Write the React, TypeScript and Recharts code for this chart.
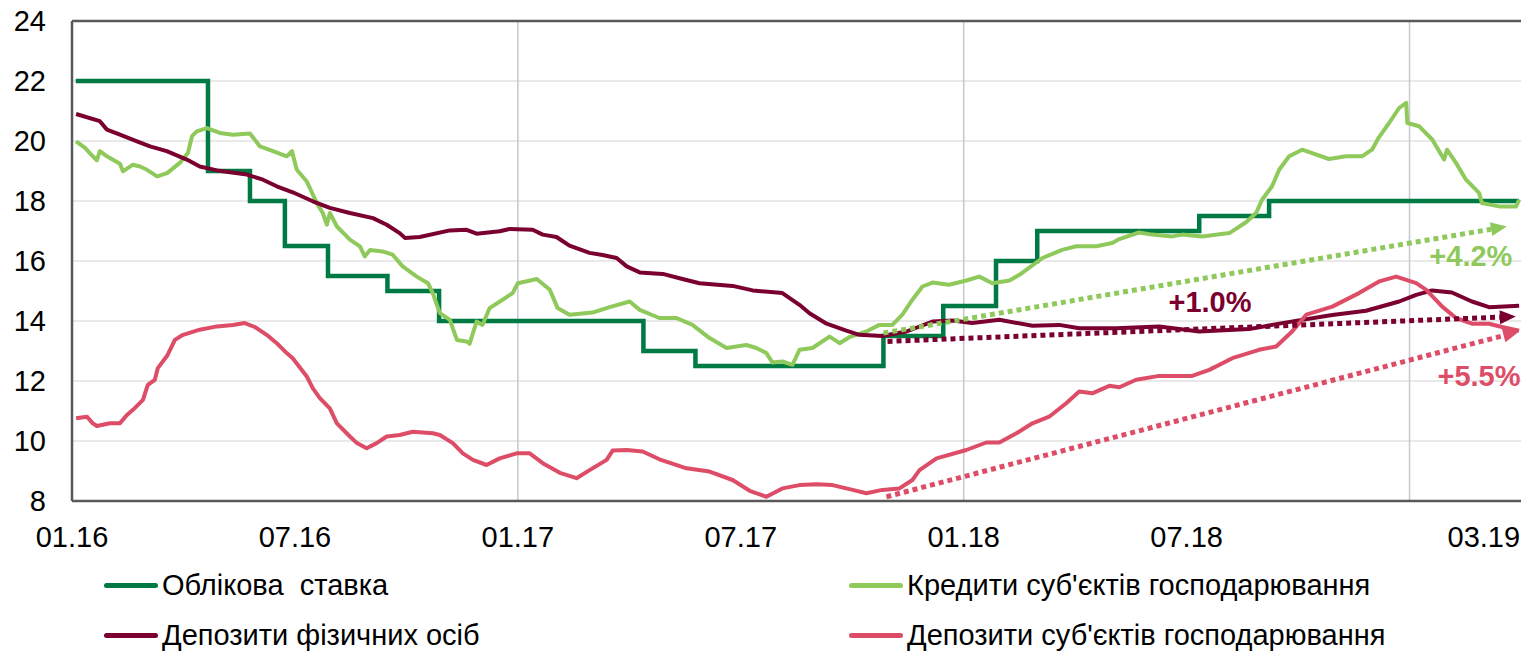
import React from 'react';
import { LineChart, Line, XAxis, YAxis, CartesianGrid, ReferenceLine, ReferenceDot } from 'recharts';

// x = months since 01.2016
const tickPositions = [0, 6, 12, 18, 24, 30, 38];
const tickLabels = ['01.16', '07.16', '01.17', '07.17', '01.18', '07.18', '03.19'];
const yearLines = [12, 24, 36];
const yTicks = [8, 10, 12, 14, 16, 18, 20, 22, 24];

const keyRate: [number, number][] = [
  [0.1, 22], [3.66, 19], [4.79, 18], [5.73, 16.5], [6.89, 15.5], [8.49, 15], [9.88, 14],
  [15.38, 13], [16.78, 12.5], [21.84, 13.5], [23.45, 14.5], [24.87, 16], [25.98, 17],
  [30.34, 17.5], [32.22, 18], [38.95, 18],
];

const businessLoans: [number, number][] = [
  [0.11, 19.99], [0.35, 19.77], [0.56, 19.49], [0.67, 19.36], [0.75, 19.66], [0.94, 19.49],
  [1.29, 19.24], [1.37, 18.99], [1.64, 19.21], [1.83, 19.15], [2.02, 19.04], [2.29, 18.82],
  [2.56, 18.93], [2.9, 19.27], [3.12, 19.6], [3.23, 20.16], [3.36, 20.32], [3.63, 20.43],
  [3.98, 20.27], [4.33, 20.21], [4.79, 20.25], [5.06, 19.82], [5.41, 19.66], [5.78, 19.49],
  [5.92, 19.66], [6.05, 19.04], [6.32, 18.65], [6.59, 17.93], [6.75, 17.6], [6.86, 17.21],
  [6.94, 17.6], [7.13, 17.15], [7.48, 16.71], [7.75, 16.49], [7.88, 16.15], [8.02, 16.37],
  [8.36, 16.32], [8.63, 16.21], [8.9, 15.82], [9.28, 15.48], [9.58, 15.26], [9.71, 14.93],
  [9.9, 14.26], [10.17, 14.04], [10.36, 13.37], [10.62, 13.32], [10.7, 13.24], [10.89, 13.98],
  [11.05, 13.87], [11.24, 14.43], [11.59, 14.71], [11.86, 14.93], [12.0, 15.26], [12.51, 15.4],
  [12.86, 15.04], [13.07, 14.43], [13.39, 14.21], [14.01, 14.28], [14.47, 14.46], [15.01, 14.65],
  [15.28, 14.37], [15.81, 14.1], [16.27, 14.1], [16.7, 13.87], [17.16, 13.43], [17.62, 13.1],
  [18.15, 13.2], [18.42, 13.1], [18.69, 12.93], [18.85, 12.62], [19.12, 12.65], [19.39, 12.54],
  [19.58, 13.04], [19.93, 13.1], [20.39, 13.48], [20.66, 13.26], [20.92, 13.46], [21.38, 13.65],
  [21.73, 13.87], [22.08, 13.87], [22.35, 14.21], [22.62, 14.71], [22.89, 15.15], [23.16, 15.28],
  [23.61, 15.21], [24.07, 15.35], [24.42, 15.48], [24.77, 15.26], [25.23, 15.35], [25.5, 15.54],
  [26.12, 16.1], [26.65, 16.37], [27.03, 16.49], [27.57, 16.49], [28.0, 16.6], [28.19, 16.73],
  [28.72, 16.95], [29.07, 16.88], [29.61, 16.82], [29.88, 16.88], [30.42, 16.82], [31.15, 16.93],
  [31.6, 17.29], [31.87, 17.6], [32.03, 18.04], [32.3, 18.49], [32.49, 19.04], [32.76, 19.49],
  [33.11, 19.71], [33.83, 19.4], [34.29, 19.49], [34.72, 19.49], [34.99, 19.71], [35.18, 20.13],
  [35.45, 20.6], [35.72, 21.1], [35.91, 21.27], [35.94, 20.6], [36.26, 20.49], [36.61, 20.05],
  [36.93, 19.38], [37.01, 19.71], [37.25, 19.27], [37.52, 18.71], [37.87, 18.27], [37.95, 17.93],
  [38.41, 17.82], [38.87, 17.82], [38.95, 18.04],
];

const householdDeposits: [number, number][] = [
  [0.11, 20.9], [0.75, 20.66], [0.94, 20.38], [1.29, 20.21], [1.75, 19.99], [2.1, 19.82],
  [2.55, 19.66], [3.09, 19.38], [3.44, 19.15], [3.9, 19.02], [4.71, 18.88], [5.14, 18.71],
  [5.51, 18.49], [5.94, 18.29], [6.48, 17.99], [6.94, 17.77], [7.48, 17.6], [8.1, 17.43],
  [8.47, 17.21], [8.82, 16.93], [8.96, 16.77], [9.36, 16.8], [10.17, 17.02], [10.62, 17.04],
  [10.89, 16.91], [11.51, 16.99], [11.78, 17.07], [12.4, 17.04], [12.67, 16.88], [13.04, 16.8],
  [13.39, 16.51], [13.93, 16.27], [14.28, 16.2], [14.66, 16.1], [14.93, 15.82], [15.28, 15.62],
  [15.9, 15.57], [16.43, 15.4], [16.89, 15.26], [17.78, 15.17], [18.32, 15.02], [19.12, 14.93],
  [19.58, 14.54], [19.85, 14.26], [20.31, 13.91], [20.84, 13.68], [21.19, 13.54], [21.81, 13.5],
  [22.46, 13.65], [23.16, 13.98], [23.7, 14.02], [24.23, 13.93], [24.96, 14.04], [25.85, 13.84],
  [26.57, 13.87], [27.11, 13.76], [28.11, 13.76], [29.26, 13.82], [30.34, 13.65], [31.68, 13.73],
  [32.57, 13.93], [33.92, 14.2], [34.83, 14.34], [35.72, 14.65], [36.18, 14.87], [36.61, 15.02],
  [37.14, 14.95], [37.68, 14.65], [38.14, 14.46], [38.95, 14.51],
];

const businessDeposits: [number, number][] = [
  [0.11, 10.76], [0.4, 10.81], [0.56, 10.59], [0.67, 10.5], [1.02, 10.59], [1.29, 10.59],
  [1.48, 10.87], [1.64, 11.04], [1.91, 11.37], [2.04, 11.87], [2.23, 12.04], [2.31, 12.43],
  [2.56, 12.84], [2.77, 13.37], [2.99, 13.54], [3.44, 13.71], [3.9, 13.82], [4.33, 13.87],
  [4.65, 13.93], [4.92, 13.8], [5.24, 13.54], [5.51, 13.26], [5.78, 12.93], [5.94, 12.76],
  [6.32, 12.15], [6.48, 11.76], [6.67, 11.43], [6.94, 11.09], [7.13, 10.59], [7.48, 10.15],
  [7.67, 9.93], [7.93, 9.76], [8.2, 9.93], [8.47, 10.15], [8.82, 10.2], [9.17, 10.31],
  [9.71, 10.26], [9.9, 10.2], [10.25, 9.93], [10.52, 9.59], [10.79, 9.37], [11.16, 9.2],
  [11.51, 9.42], [11.97, 9.59], [12.32, 9.59], [12.67, 9.26], [13.13, 8.94], [13.58, 8.76],
  [13.93, 9.03], [14.39, 9.37], [14.55, 9.68], [14.93, 9.7], [15.36, 9.65], [15.81, 9.39],
  [16.54, 9.09], [17.16, 8.98], [17.78, 8.7], [18.24, 8.34], [18.69, 8.14], [19.12, 8.42],
  [19.58, 8.53], [20.04, 8.56], [20.47, 8.53], [21.01, 8.37], [21.38, 8.26], [21.81, 8.37],
  [22.27, 8.42], [22.62, 8.7], [22.81, 9.03], [23.27, 9.42], [24.07, 9.7], [24.61, 9.95],
  [24.96, 9.95], [25.42, 10.26], [25.85, 10.59], [26.3, 10.81], [26.76, 11.26], [27.11, 11.65],
  [27.46, 11.59], [27.92, 11.84], [28.19, 11.79], [28.64, 12.04], [29.26, 12.17], [30.15, 12.17],
  [30.61, 12.37], [31.23, 12.76], [31.95, 13.04], [32.41, 13.15], [32.84, 13.65], [33.22, 14.21],
  [33.92, 14.48], [34.64, 14.93], [35.18, 15.32], [35.64, 15.48], [36.18, 15.26], [36.45, 15.04],
  [36.88, 14.48], [37.25, 14.1], [37.68, 13.91], [38.14, 13.91], [38.49, 13.8], [38.95, 13.68],
];

// trend arrows: [start month, start value, end month, end value]
const loansTrend = [21.84, 13.6, 38.62, 17.15];
const householdTrend = [21.95, 13.32, 38.86, 14.15];
const depositsTrend = [21.92, 8.14, 38.95, 13.65];
const trendLabels = ['+4.2%', '+1.0%', '+5.5%'];
const trendLabelAt: [number, number][] = [[37.65, 16.17], [30.63, 14.64], [37.87, 12.17]];

const seriesNames = [
  'Облікова  ставка',
  "Кредити суб'єктів господарювання",
  'Депозити фізичних осіб',
  "Депозити суб'єктів господарювання",
];
const colors = ['#007a45', '#8fc95c', '#7a0030', '#dd4d67'];

const buildRows = () => {
  const map = new Map<number, Record<string, number>>();
  const add = (key: string, pts: [number, number][]) =>
    pts.forEach(([m, v]) => {
      const row = map.get(m) ?? { m };
      row[key] = v;
      map.set(m, row);
    });
  add('rate', keyRate);
  add('loans', businessLoans);
  add('households', householdDeposits);
  add('business', businessDeposits);
  return [...map.values()].sort((a, b) => a.m - b.m);
};

const data = buildRows();
const FONT = '"Liberation Sans", Arial, sans-serif';

const arrowShape = (color: string) => (props: any) => {
  const x1 = Number(props.x1), y1 = Number(props.y1), x2 = Number(props.x2), y2 = Number(props.y2);
  const dx = x2 - x1, dy = y2 - y1;
  const len = Math.hypot(dx, dy) || 1;
  const ux = dx / len, uy = dy / len;
  const head = 16, half = 7;
  const bx = x2 - ux * head, by = y2 - uy * head;
  return (
    <g>
      <line x1={x1} y1={y1} x2={bx} y2={by} stroke={color} strokeWidth={5} strokeDasharray="5 4" />
      <polygon
        points={`${x2},${y2} ${bx - uy * half},${by + ux * half} ${bx + uy * half},${by - ux * half}`}
        fill={color}
      />
    </g>
  );
};

const labelShape = (text: string, color: string) => (props: any) => (
  <text
    x={props.cx}
    y={props.cy}
    dy="0.35em"
    textAnchor="middle"
    fill={color}
    fontSize={29}
    fontWeight="bold"
    fontFamily={FONT}
  >
    {text}
  </text>
);

const trends = [loansTrend, householdTrend, depositsTrend];
const trendColors = [colors[1], colors[2], colors[3]];

export default function App() {
  return (
    <div style={{ position: 'absolute', left: 0, top: 0, width: 1521, height: 651, fontFamily: FONT, background: '#fff' }}>
      <LineChart width={1521} height={651} data={data} margin={{ top: 21, right: 0, bottom: 100, left: 0 }}>
        <CartesianGrid vertical={false} stroke="#d3d3d3" strokeWidth={1.2} />
        {yearLines.map((x) => (
          <ReferenceLine key={x} x={x} stroke="#c3c9ce" strokeWidth={1.5} />
        ))}
        <ReferenceLine y={24} stroke="#595959" strokeWidth={2.5} />
        <XAxis
          dataKey="m"
          type="number"
          domain={[0, 39]}
          ticks={tickPositions}
          interval={0}
          tickFormatter={(v: number) => tickLabels[tickPositions.indexOf(v)] ?? ''}
          height={50}
          tickLine={false}
          tickSize={0}
          tickMargin={25}
          axisLine={{ stroke: '#595959', strokeWidth: 2.5 }}
          tick={{ fill: '#000', fontSize: 29, fontFamily: FONT }}
        />
        <YAxis
          type="number"
          domain={[8, 24]}
          ticks={yTicks}
          interval={0}
          width={72}
          tickLine={false}
          tickSize={0}
          tickMargin={26}
          axisLine={{ stroke: '#595959', strokeWidth: 2.5 }}
          tick={{ fill: '#000', fontSize: 29, fontFamily: FONT }}
        />
        <Line
          dataKey="rate"
          type="stepAfter"
          stroke={colors[0]}
          strokeWidth={4.5}
          dot={false}
          connectNulls
          isAnimationActive={false}
        />
        <Line dataKey="loans" type="linear" stroke={colors[1]} strokeWidth={4} strokeLinejoin="round" dot={false} connectNulls isAnimationActive={false} />
        <Line dataKey="households" type="linear" stroke={colors[2]} strokeWidth={4} strokeLinejoin="round" dot={false} connectNulls isAnimationActive={false} />
        <Line dataKey="business" type="linear" stroke={colors[3]} strokeWidth={4} strokeLinejoin="round" dot={false} connectNulls isAnimationActive={false} />
        {trends.map((t, i) => (
          <ReferenceLine
            key={`trend-${i}`}
            segment={[{ x: t[0], y: t[1] }, { x: t[2], y: t[3] }]}
            shape={arrowShape(trendColors[i])}
            ifOverflow="visible"
          />
        ))}
        {trendLabels.map((t, i) => (
          <ReferenceDot
            key={`lbl-${i}`}
            x={trendLabelAt[i][0]}
            y={trendLabelAt[i][1]}
            r={0}
            shape={labelShape(t, trendColors[i])}
            ifOverflow="visible"
          />
        ))}
      </LineChart>
      {[0, 1].map((row) => (
        <div key={row}>
          {[0, 1].map((col) => {
            const idx = row * 2 + col;
            return (
              <div
                key={col}
                style={{
                  position: 'absolute',
                  left: col === 0 ? 104 : 849,
                  top: (row === 0 ? 585 : 635) - 17,
                  height: 34,
                  display: 'flex',
                  alignItems: 'center',
                  whiteSpace: 'pre',
                  fontSize: 29,
                  color: '#000',
                }}
              >
                <span style={{ display: 'inline-block', width: 54, height: 5, borderRadius: 3, background: colors[idx], marginRight: 4 }} />
                <span>{seriesNames[idx]}</span>
              </div>
            );
          })}
        </div>
      ))}
    </div>
  );
}
